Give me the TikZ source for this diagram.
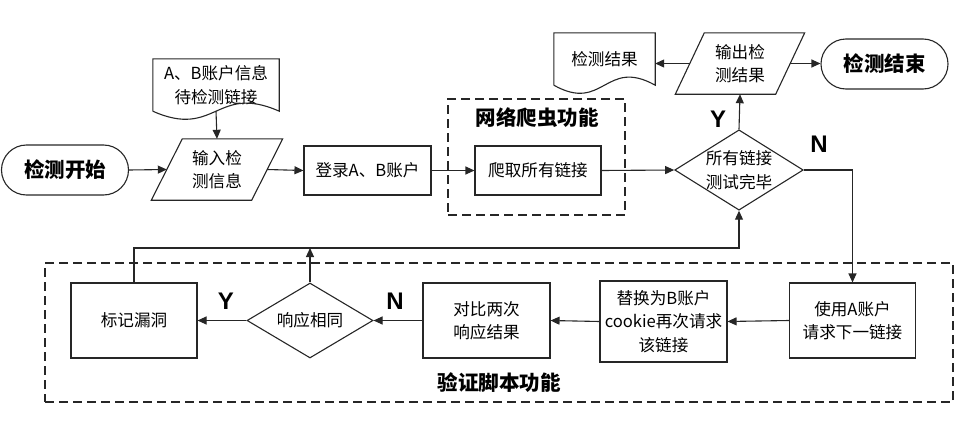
\documentclass[tikz,border=0pt]{standalone}
\usepackage{fontspec}
\setmainfont{Liberation Sans}
\newfontfamily\cjk{Noto Sans CJK SC}
\usetikzlibrary{arrows.meta,calc,shapes.geometric}
\begin{document}
\begin{tikzpicture}[x=1pt,y=-1pt,
  line/.style={draw=black!85, line width=1.1pt},
  arr/.style={line, -{Triangle[length=9pt,width=8pt]}},
  txt/.style={align=center, inner sep=0pt, font=\cjk\fontsize{16.6}{23.5}\selectfont},
  box/.style={txt, draw=black!85, line width=1.1pt, minimum width=126pt, minimum height=75pt},
  term/.style={draw=black!85, line width=1.1pt, rounded corners=25pt, minimum width=127pt, minimum height=50pt, inner sep=0pt, font=\cjk\bfseries\fontsize{20.5}{24}\selectfont},
  plain/.style={txt, minimum width=#1, minimum height=61pt},
  docnode/.style={txt},
  dia/.style={diamond, draw=black!85, line width=1.1pt, aspect=1.6, inner sep=0pt, align=center, font=\cjk\fontsize{16.6}{23.5}\selectfont},
  yn/.style={font=\bfseries\fontsize{24}{26}\selectfont, inner sep=0pt},
  frame/.style={draw=black!85, line width=1.3pt, dash pattern=on 9pt off 5pt},
  ftitle/.style={font=\cjk\bfseries\fontsize{20.5}{24}\selectfont, inner sep=0pt}
]
\useasboundingbox (0,0) rectangle (956,431);

% frames
\node[frame, minimum width=177pt, minimum height=116pt] (crawlframe) at (536.5,157) {};
\node[ftitle] (crawltitle) at (537,118) {网络爬虫功能};
\node[frame, minimum width=908pt, minimum height=139pt] (verframe) at (499,332.5) {};
\node[ftitle] (vertitle) at (499,383) {验证脚本功能};

% top row
\node[term] (start) at (65,170) {检测开始};

\node[docnode, minimum width=126pt, minimum height=52pt] (src) at (216,85) {A、B账户信息\\待检测链接};
\draw[line] (src.south west) -- (src.north west) -- (src.north east) -- (src.south east)
  .. controls +(-63,-28) and ($(src.south west)+(63,28)$) .. (src.south west);

\node[plain=131pt] (in1) at (217,169.5) {输入检\\测信息};
\draw[line] ($(in1.north west)+(31,0)$) -- (in1.north east) -- ($(in1.south east)+(-31,0)$) -- (in1.south west) -- cycle;
\coordinate (in1w) at ($(in1.west)+(15.5,0)$);
\coordinate (in1e) at ($(in1.east)+(-15.5,0)$);

\node[box, minimum height=49pt, minimum width=127pt] (login) at (367.5,170.5) {登录A、B账户};
\node[box, minimum height=49pt, minimum width=126pt] (crawl) at (538,170.5) {爬取所有链接};

\node[dia, minimum width=125pt, minimum height=80pt] (chk) at (739,170) {所有链接\\测试完毕};

\node[plain=129pt] (out1) at (740,63.5) {输出检\\测结果};
\draw[line] ($(out1.north west)+(29,0)$) -- (out1.north east) -- ($(out1.south east)+(-29,0)$) -- (out1.south west) -- cycle;
\coordinate (out1w) at ($(out1.west)+(14.5,0)$);
\coordinate (out1e) at ($(out1.east)+(-14.5,0)$);

\node[docnode, minimum width=101pt, minimum height=52pt] (res) at (604.5,59) {检测结果};
\draw[line] (res.south west) -- (res.north west) -- (res.north east) -- (res.south east)
  .. controls +(-50,-28) and ($(res.south west)+(50,28)$) .. (res.south west);

\node[term] (end) at (884.5,64) {检测结束};

% bottom row
\node[box] (useA) at (852.5,320.5) {使用A账户\\请求下一链接};
\node[box, minimum height=81pt, minimum width=127pt] (repl) at (663.5,321.5) {替换为B账户\\cookie再次请求\\该链接};
\node[box, minimum width=127pt] (cmp) at (486.5,320.5) {对比两次\\响应结果};
\node[dia, minimum width=126pt, minimum height=75pt] (same) at (310,320.5) {响应相同};
\node[box] (mark) at (134,320.5) {标记漏洞};

% labels
\node[yn] (y1) at (718,119) {Y};
\node[yn] (n1) at (819,144) {N};
\node[yn] (y2) at (226,301) {Y};
\node[yn] (n2) at (395,301) {N};

% connectors
\draw[arr] (start.east) -- (in1w);
\draw[arr] (src.south) -- (in1.north);
\draw[arr] (in1e) -- (login.west);
\draw[arr] (login.east) -- (crawl.west);
\draw[arr] (crawl.east) -- (chk.west);
\draw[arr] (chk.north) -- (out1.south);
\draw[arr] (out1w) -- (out1w -| res.east);
\draw[arr] (out1e) -- (out1e -| end.west);
\draw[arr] (chk.east) -| (useA.north);
\draw[arr] (useA.west) -- (repl.east);
\draw[arr] (repl.west) -- (cmp.east);
\draw[arr] (cmp.west) -- (same.east);
\draw[arr] (same.west) -- (mark.east);
\coordinate (fb) at (same.north |- 0,248);
\draw[arr] (mark.north) |- (fb) -| (chk.south);
\draw[arr] (same.north) -- (fb);
\end{tikzpicture}
\end{document}
